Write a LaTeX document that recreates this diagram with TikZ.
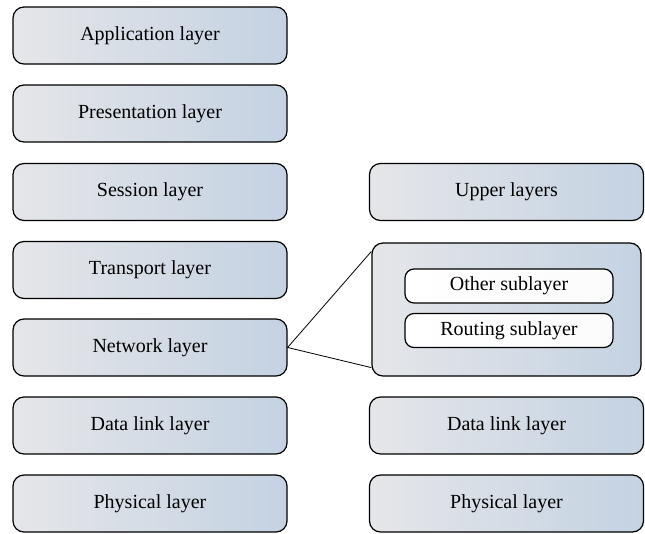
\documentclass[tikz,border=0pt]{standalone}
\usepackage{fontspec}
\setmainfont{Liberation Serif}
\usetikzlibrary{positioning,calc}
\definecolor{layergray}{RGB}{229,230,233}
\definecolor{layerblue}{RGB}{196,210,226}

\begin{document}
\begin{tikzpicture}[x=1pt,y=-1pt,
    layer/.style={draw,line width=1.2pt,rounded corners=11pt,
        minimum width=274pt,minimum height=57pt,
        left color=layergray,right color=layerblue,
        font=\fontsize{20}{24}\selectfont},
    sublayer/.style={draw,line width=1.2pt,rounded corners=9pt,
        minimum width=208pt,minimum height=34pt,
        left color=white,right color=white!85!layergray,
        font=\fontsize{20}{24}\selectfont}]
% 1 unit = 1 pixel of the 645 x 533 figure, y grows downwards
\useasboundingbox (0,0) rectangle (645,533);

% OSI stack (left)
\foreach \name/\txt/\y in {app/Application layer/35.5, pres/Presentation layer/113.5,
    sess/Session layer/192, trans/Transport layer/270, net/Network layer/347.5,
    dl/Data link layer/425.5, phy/Physical layer/503.5}
    \node[layer] (\name) at (150,\y) {\txt};

% Other stack (right)
\node[layer] (upper) at (506.5,192) {Upper layers};
\node[layer,minimum width=269pt,minimum height=133pt] (sub) at (506.5,309.5) {};
\node[layer] (dlr) at (506.5,425.5) {Data link layer};
\node[layer] (phyr) at (506.5,503.5) {Physical layer};

% Sublayers inside the network part
\node[sublayer] (other) at (509,286) {Other sublayer};
\node[sublayer] (routing) at (509,330.5) {Routing sublayer};

% Zoom lines
\draw[line width=0.8pt] ([yshift=-9pt]sub.north west) -- (net.east) -- ([yshift=9pt]sub.south west);
\end{tikzpicture}
\end{document}
